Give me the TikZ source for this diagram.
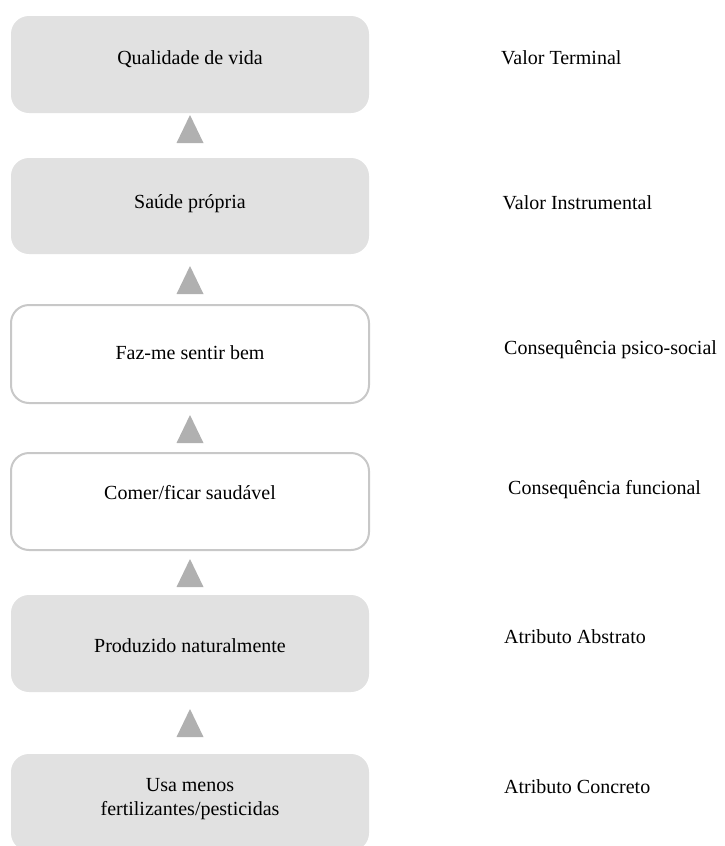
\documentclass[tikz,border=0pt]{standalone}
\usepackage{fontspec}
\setmainfont{Liberation Serif}
\definecolor{boxgray}{HTML}{E1E1E1}
\definecolor{tricol}{HTML}{B0B0B0}
\definecolor{bordercol}{HTML}{C8C8C8}
\tikzset{
  boxbase/.style={rectangle, rounded corners=18pt, minimum width=358pt, inner sep=0pt},
  graybox/.style={boxbase, fill=boxgray, draw=none},
  whitebox/.style={boxbase, fill=white, draw=bordercol, line width=2pt},
  txt/.style={inner sep=0pt, font=\fontsize{20pt}{24pt}\selectfont, text=black},
  boxtxt/.style={txt, anchor=base, align=center},
  lbl/.style={txt, anchor=base west},
  tri/.style={fill=tricol, draw=none}
}
\begin{document}
\begin{tikzpicture}[x=1pt,y=-1pt]
\useasboundingbox (0,0) rectangle (725,846);
\clip (0,0) rectangle (725,846);
% boxes
\node[graybox, minimum height=97pt] (b1) at (190,64.5) {};
\node[graybox, minimum height=96pt] (b2) at (190,206) {};
\node[whitebox, minimum height=98pt] (b3) at (190,354) {};
\node[whitebox, minimum height=97pt] (b4) at (190,501.5) {};
\node[graybox, minimum height=97pt] (b5) at (190,643.5) {};
\node[graybox, minimum height=97pt] (b6) at (190,802.5) {};
% box texts
\node[boxtxt] (t1) at (190,64) {Qualidade de vida};
\node[boxtxt] (t2) at (190,208.5) {Saúde própria};
\node[boxtxt] (t3) at (190,359.5) {Faz-me sentir bem};
\node[boxtxt] (t4) at (190,499.5) {Comer/ficar saudável};
\node[boxtxt] (t5) at (190,652.5) {Produzido naturalmente};
\node[txt, align=center, anchor=center] (t6) at (190,799) {Usa menos\\fertilizantes/pesticidas};
% triangles
\coordinate (a1) at (190,115);
\coordinate (a2) at (190,266);
\coordinate (a3) at (190,415);
\coordinate (a4) at (190,559);
\coordinate (a5) at (190,709);
\foreach \a in {a1,a2,a3,a4,a5}
  \fill[tri] (\a) -- ++(13.5,28) -- ++(-27,0) -- cycle;
% labels
\node[lbl] (l1) at (501,64.5) {Valor Terminal};
\node[lbl] (l2) at (502.5,209) {Valor Instrumental};
\node[lbl] (l3) at (504,354) {Consequência psico-social};
\node[lbl] (l4) at (508,494) {Consequência funcional};
\node[lbl] (l5) at (504,643) {Atributo Abstrato};
\node[lbl] (l6) at (504,793) {Atributo Concreto};
\end{tikzpicture}
\end{document}
